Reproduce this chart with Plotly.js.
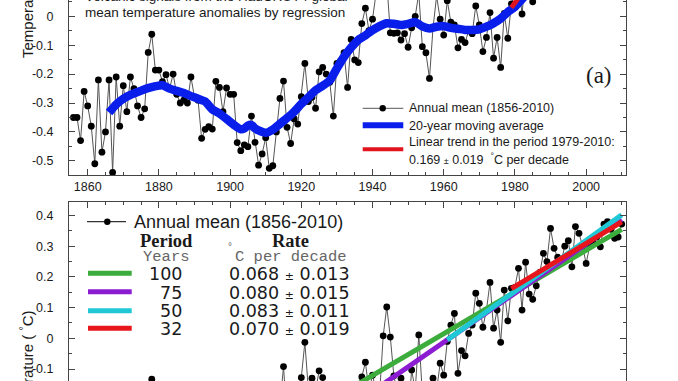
<!DOCTYPE html>
<html><head><meta charset="utf-8">
<script src="https://cdn.plot.ly/plotly-3.0.1.min.js"></script>
<style>html,body{margin:0;padding:0;background:#fff;}#chart{width:678px;height:381px;}</style>
</head><body><div id="chart"></div>
<script>
// ---------------- DATA ----------------
const firstYear = 1856;
const lastYear = 2010;
// panel (a): annual mean anomalies (values above the visible window are estimates)
const annualTop = [
 -0.35,-0.35,-0.43,-0.26,-0.31,-0.38,-0.51,-0.22,-0.47,-0.40,
 -0.22,-0.54,-0.21,-0.38,-0.24,-0.33,-0.21,-0.25,-0.31,-0.35,
 -0.32,-0.125,-0.062,-0.186,-0.186,-0.226,-0.202,-0.25,-0.20,-0.27,
 -0.30,-0.29,-0.30,-0.21,-0.28,-0.29,-0.422,-0.391,-0.382,-0.39,
 -0.225,-0.246,-0.33,-0.248,-0.27,-0.27,-0.437,-0.465,-0.445,-0.451,
 -0.345,-0.436,-0.515,-0.476,-0.42,-0.526,-0.517,-0.40,-0.284,-0.224,
 -0.384,-0.44,-0.355,-0.373,-0.278,-0.163,-0.295,-0.28,-0.318,-0.192,
 -0.177,-0.20,-0.228,-0.345,-0.163,-0.154,-0.126,-0.246,-0.08,-0.151,
 -0.16,-0.025,0.028,-0.05,-0.01,0.08,0.07,0.10,0.12,-0.057,
 -0.059,-0.057,-0.082,-0.06,-0.107,-0.04,0.00,0.08,-0.105,-0.126,
 -0.215,-0.04,0.07,-0.01,-0.065,0.054,-0.02,-0.03,-0.109,-0.08,
 -0.091,-0.05,-0.06,0.036,-0.03,-0.122,-0.073,0.013,-0.145,-0.073,
 -0.177,0.01,-0.076,0.043,0.08,0.12,0.008,0.14,0.09,0.05,
 0.12,0.22,0.25,0.15,0.32,0.30,0.25,0.25,0.28,0.36,
 0.25,0.42,0.55,0.35,0.33,0.45,0.49,0.49,0.44,0.51,
 0.47,0.46,0.36,0.46,0.50
];
// 20-year moving average
const maYears = [1866,1868,1870,1872,1874,1876,1878,1880,1881,1883,1885,1887,1889,1891,1893,1895,1897,1899,1901,1903,1904,1905,1906,1907,1908,1910,1912,1914,1916,1918,1920,1922,1924,1926,1928,1930,1932,1934,1936,1938,1940,1942,1944,1946,1948,1950,1952,1954,1956,1958,1960,1962,1964,1966,1968,1970,1972,1974,1976,1978,1980,1982,1984,1986,1988,1990,1992,1994,1996,1998,2000];
const maValues = [-0.333,-0.305,-0.285,-0.272,-0.262,-0.252,-0.245,-0.240,-0.238,-0.250,-0.258,-0.265,-0.276,-0.285,-0.295,-0.322,-0.336,-0.355,-0.375,-0.391,-0.388,-0.378,-0.376,-0.388,-0.395,-0.403,-0.392,-0.372,-0.352,-0.330,-0.303,-0.280,-0.256,-0.240,-0.222,-0.180,-0.140,-0.108,-0.082,-0.066,-0.048,-0.034,-0.024,-0.026,-0.030,-0.026,-0.020,-0.035,-0.042,-0.036,-0.034,-0.040,-0.043,-0.047,-0.047,-0.045,-0.036,-0.024,-0.008,0.015,0.033,0.060,0.085,0.11,0.14,0.17,0.20,0.23,0.27,0.30,0.33];
// linear trend 1979-2010 (panel a)
const trendTopYears = [1979, 2010];
const trendTopValues = [0.03, 0.554];

// lower panel: annual mean anomalies (values below the visible window are estimates)
const annualBottom = [
 -0.38,-0.42,-0.45,-0.30,-0.36,-0.40,-0.52,-0.28,-0.48,-0.38,
 -0.30,-0.45,-0.32,-0.36,-0.34,-0.38,-0.30,-0.32,-0.38,-0.42,
 -0.40,-0.25,-0.133,-0.28,-0.30,-0.27,-0.29,-0.33,-0.40,-0.40,
 -0.35,-0.39,-0.33,-0.22,-0.40,-0.36,-0.42,-0.42,-0.38,-0.35,
 -0.22,-0.22,-0.34,-0.26,-0.20,-0.25,-0.36,-0.40,-0.44,-0.34,
 -0.28,-0.40,-0.42,-0.44,-0.42,-0.43,-0.38,-0.36,-0.22,-0.092,
 -0.26,-0.34,-0.25,-0.22,-0.128,-0.013,-0.17,-0.13,-0.17,-0.106,
 -0.128,-0.18,-0.17,-0.28,-0.17,-0.19,-0.18,-0.28,-0.18,-0.20,
 -0.19,-0.126,-0.078,-0.17,-0.12,-0.17,-0.18,0.008,0.102,0.004,
 -0.122,-0.18,-0.13,-0.19,-0.25,-0.103,-0.17,0.011,-0.18,-0.20,
 -0.27,-0.13,-0.17,-0.081,-0.12,-0.01,0.043,0.081,-0.114,-0.04,
 -0.057,0.016,0.043,0.147,0.114,0.036,0.092,0.182,0.033,0.092,
 -0.013,0.157,0.057,0.163,0.166,0.228,0.092,0.248,0.144,0.127,
 0.171,0.215,0.277,0.25,0.358,0.293,0.264,0.25,0.30,0.318,
 0.233,0.364,0.342,0.30,0.244,0.30,0.31,0.33,0.298,0.372,
 0.38,0.355,0.326,0.33,0.372
];
// trend lines of the lower panel
const periods = ['100','75','50','32'];
const rates = ['0.068','0.080','0.083','0.070'];
const rateErrors = ['0.013','0.015','0.011','0.019'];
const trendStart = [1911,1936,1961,1979];
const trendEnd = [2010,2010,2010,2010];
const trendStartVal = [-0.318,-0.205,-0.005,0.162];
const trendEndVal = [0.355,0.387,0.402,0.379];
const trendColors = ['rgb(60,172,60)','rgb(140,28,210)','rgb(32,200,214)','rgb(232,22,28)'];

// tick labels
const xTickVals = [1860,1880,1900,1920,1940,1960,1980,2000];
const xTickText = ['1860','1880','1900','1920','1940','1960','1980','2000'];
const yTopTickVals = [-0.5,-0.4,-0.3,-0.2,-0.1,0];
const yTopTickText = ['-0.5','-0.4','-0.3','-0.2','-0.1','0'];
const yBotTickVals = [-0.1,0,0.1,0.2,0.3,0.4];
const yBotTickText = ['-0.1','0','0.1','0.2','0.3','0.4'];

// ---------------- BUILD ----------------
const years = [];
for (let y = firstYear; y <= lastYear; y++) years.push(y);

const W = 678, H = 381, L = 69, R = 626;
const X = px => (px - L) / (R - L);
const Y = py => 1 - py / H;

const SANS = 'Liberation Sans, Arial, sans-serif';
const SERIF = 'Liberation Serif, Times New Roman, serif';
const MONO = 'Liberation Mono, Courier New, monospace';
const DEJ = 'DejaVu Sans, Verdana, sans-serif';
const TXT = '#1a1a1a';

const traces = [
  {x: years, y: annualTop, xaxis: 'x', yaxis: 'y', mode: 'lines+markers',
   line: {color: '#555', width: 1}, marker: {color: '#000', size: 6.8}, hoverinfo: 'skip'},
  {x: maYears, y: maValues, xaxis: 'x', yaxis: 'y', mode: 'lines',
   line: {color: 'rgb(10,30,235)', width: 8.5, shape: 'spline', smoothing: 0.6}, hoverinfo: 'skip'},
  {x: trendTopYears, y: trendTopValues, xaxis: 'x', yaxis: 'y', mode: 'lines',
   line: {color: 'rgb(225,20,30)', width: 5}, hoverinfo: 'skip'},
  {x: years, y: annualBottom, xaxis: 'x2', yaxis: 'y2', mode: 'lines+markers',
   line: {color: '#555', width: 1}, marker: {color: '#000', size: 6.8}, hoverinfo: 'skip'}
];
for (let i = 0; i < periods.length; i++) {
  traces.push({x: [trendStart[i], trendEnd[i]], y: [trendStartVal[i], trendEndVal[i]],
    xaxis: 'x2', yaxis: 'y2', mode: 'lines', line: {color: trendColors[i], width: 5}, hoverinfo: 'skip'});
}

const axCommon = {
  showline: true, linecolor: '#444', linewidth: 1, ticks: 'inside', tickcolor: '#444',
  showgrid: false, zeroline: false, fixedrange: true,
  tickfont: {family: SANS, size: 12.5, color: TXT}
};
const topDomain = [1 - 175 / H, 1];
const botDomain = [0, 1 - 201.7 / H];
const xRange = [1854.75, 2011.2];

const layout = {
  width: W, height: H, margin: {l: L, r: W - R, t: 0, b: 0},
  paper_bgcolor: '#fff', plot_bgcolor: '#fff', showlegend: false,
  xaxis: Object.assign({}, axCommon, {domain: [0, 1], anchor: 'y', range: xRange,
    tickmode: 'array', tickvals: xTickVals, ticktext: xTickText, ticklen: 6, ticklabelstandoff: 0,
    minor: {tickmode: 'linear', tick0: 1855, dtick: 5, ticks: 'inside', ticklen: 3, tickcolor: '#444'}}),
  yaxis: Object.assign({}, axCommon, {domain: topDomain, anchor: 'x', range: [-0.549, 0.0564],
    tickmode: 'array', tickvals: yTopTickVals, ticktext: yTopTickText, ticklen: 6, mirror: 'ticks', ticklabelstandoff: 12,
    minor: {tickmode: 'linear', tick0: 0, dtick: 0.05, ticks: 'inside', ticklen: 3, tickcolor: '#444'}}),
  xaxis2: Object.assign({}, axCommon, {domain: [0, 1], anchor: 'y2', side: 'top', range: xRange,
    tickmode: 'array', tickvals: xTickVals, ticktext: xTickText, showticklabels: false, ticklen: 6,
    minor: {tickmode: 'linear', tick0: 1855, dtick: 5, ticks: 'inside', ticklen: 3, tickcolor: '#444'}}),
  yaxis2: Object.assign({}, axCommon, {domain: botDomain, anchor: 'x2', range: [-0.139, 0.445],
    tickmode: 'array', tickvals: yBotTickVals, ticktext: yBotTickText, ticklen: 6, mirror: 'ticks', ticklabelstandoff: 12,
    minor: {tickmode: 'linear', tick0: 0, dtick: 0.05, ticks: 'inside', ticklen: 3, tickcolor: '#444'}}),
  shapes: [], annotations: []
};

function txt(text, px, py, opts) {
  layout.annotations.push(Object.assign({
    text: text, x: X(px), y: Y(py), xref: 'paper', yref: 'paper', showarrow: false,
    xanchor: 'left', yanchor: 'middle', font: {family: SANS, size: 12.5, color: TXT}
  }, opts || {}));
}
function hline(x0, x1, py, color, width) {
  layout.shapes.push({type: 'line', xref: 'paper', yref: 'paper', x0: X(x0), x1: X(x1), y0: Y(py), y1: Y(py),
    line: {color: color, width: width}});
}
function dot(cx, cy, r) {
  layout.shapes.push({type: 'circle', xref: 'paper', yref: 'paper', x0: X(cx - r), x1: X(cx + r), y0: Y(cy + r), y1: Y(cy - r),
    fillcolor: '#000', line: {color: '#000', width: 0}});
}

// ---- panel (a) annotations ----
txt('Volcanic signals from the HadCRUT4 global', 83, -3.5, {font: {family: SANS, size: 13.5, color: TXT}});
txt('mean temperature anomalies by regression', 83, 12.3, {font: {family: SANS, size: 13.5, color: TXT}});
txt('(a)', 599, 76, {xanchor: 'center', font: {family: SERIF, size: 23, color: TXT}});
txt('Temperature ( <sup>°</sup>C)', 27, 60, {xanchor: 'center', yanchor: 'bottom', textangle: -90, font: {family: SANS, size: 15, color: TXT}});
hline(362.7, 403.3, 108.3, '#555', 1); dot(382.7, 108.3, 3.2);
hline(362.7, 403.3, 125.3, 'rgb(10,30,235)', 6);
hline(362.7, 403.3, 149.3, 'rgb(225,20,30)', 4);
txt('Annual mean (1856-2010)', 406.7, 108.3);
txt('20-year moving average', 406.7, 125.7);
txt('Linear trend in the period 1979-2010:', 406.7, 141.7);
txt('0.169 <span style="font-size:9px">±</span> 0.019  <sup>°</sup>C per decade', 406.7, 159.3);

// ---- lower panel annotations ----
txt('Temperature ( <sup>°</sup>C)', 26, 308, {xanchor: 'center', yanchor: 'top', textangle: -90, font: {family: SANS, size: 15, color: TXT}});
hline(87, 126, 221.7, '#333', 1.2); dot(107.3, 221.7, 3.2);
txt('Annual mean (1856-2010)', 131.7, 222.3, {font: {family: SANS, size: 18, color: TXT}});
txt('<b>Period</b>', 166.5, 241, {xanchor: 'center', font: {family: SERIF, size: 18.5, color: TXT}});
txt('<b>Rate</b>', 290, 241, {xanchor: 'center', font: {family: SERIF, size: 18.5, color: TXT}});
txt('Years', 166, 256.5, {xanchor: 'center', font: {family: MONO, size: 15.5, color: '#666'}});
txt('°', 230, 247, {xanchor: 'center', font: {family: MONO, size: 10, color: '#666'}});
txt('C per decade', 233, 256.5, {font: {family: MONO, size: 15.5, color: '#666'}});
const rowY = [274.3, 292.7, 310.7, 329.3];
const sampleY = [273.3, 291.7, 310.7, 328.3];
for (let i = 0; i < periods.length; i++) {
  hline(88, 131.7, sampleY[i], trendColors[i], 5);
  txt(periods[i], 183.5, rowY[i], {xanchor: 'right', font: {family: DEJ, size: 17.5, color: TXT}});
  txt(rates[i] + ' <span style="font-size:11px">±</span> ' + rateErrors[i], 227, rowY[i], {font: {family: DEJ, size: 17.5, color: TXT}});
}

Plotly.newPlot('chart', traces, layout, {staticPlot: true, displayModeBar: false});
</script>
</body></html>
